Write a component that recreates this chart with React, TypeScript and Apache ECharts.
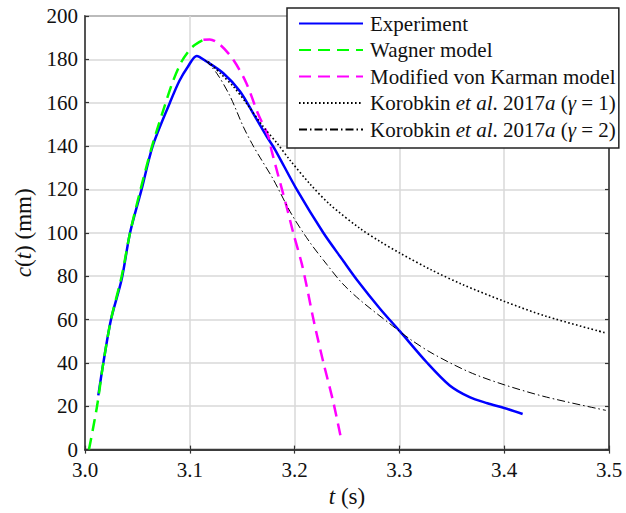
import { useEffect, useRef } from "react";
import * as echarts from "echarts";

// Experiment
const expT = [3.0127, 3.0175, 3.0248, 3.035, 3.043, 3.054, 3.0646, 3.081, 3.09, 3.098, 3.1066, 3.116, 3.132, 3.148, 3.1606, 3.1733, 3.1813, 3.202, 3.2274, 3.2465, 3.2592, 3.2815, 3.3006, 3.326, 3.348, 3.367, 3.384, 3.4, 3.4176];
const expC = [25, 40, 60, 78.6, 100, 120, 140, 160, 170, 176.5, 181.6, 179, 173.6, 165.2, 155, 144.5, 138.4, 120, 100, 87, 78.5, 65, 54.5, 40.3, 29.6, 24.2, 21.4, 19.2, 16.4];

// Wagner model
const wagT = [3.0038, 3.0115, 3.0175, 3.0248, 3.035, 3.043, 3.053, 3.064, 3.077, 3.084, 3.0922, 3.1, 3.105, 3.113, 3.117];
const wagC = [0, 20, 40, 60, 80, 100, 120, 140, 160, 170, 179, 184.5, 186.7, 189, 189.2];

// Modified von Karman model
const mvkT = [3.113, 3.119, 3.129, 3.1415, 3.154, 3.165, 3.175, 3.178, 3.1924, 3.1987, 3.2067, 3.2115, 3.218, 3.2274, 3.2369, 3.245];
const mvkC = [189, 189.2, 186.7, 179.8, 169, 155, 144.5, 138, 112, 100, 86, 75.5, 60, 40.3, 22, 3.5];

// Korobkin et al. 2017a (gamma = 1)
const k1T = [3.1176, 3.129, 3.1415, 3.154, 3.17, 3.183, 3.1956, 3.2147, 3.2338, 3.2624, 3.2815, 3.3006, 3.33, 3.36, 3.4, 3.44, 3.497];
const k1C = [179, 173.6, 167.5, 159.8, 149, 141.5, 133.5, 122.5, 113, 102, 96, 90.6, 83, 76.2, 68.4, 61.5, 53.8];

// Korobkin et al. 2017a (gamma = 2)
const k2T = [3.1145, 3.1257, 3.1384, 3.151, 3.1606, 3.1686, 3.1797, 3.1972, 3.2147, 3.2306, 3.2449, 3.2624, 3.291, 3.31, 3.3324, 3.367, 3.4, 3.4405, 3.497];
const k2C = [179.8, 173.6, 163, 149, 140, 133.5, 124.6, 108.5, 95.5, 85.5, 77, 69, 58, 51, 44.1, 35.7, 29.9, 24.2, 18.1];

const seriesNames = [
  "Experiment",
  "Wagner model",
  "Modified von Karman model",
  "Korobkin et al. 2017a (γ = 1)",
  "Korobkin et al. 2017a (γ = 2)",
];
const legendRich: Record<string, string> = {
  "Experiment": "Experiment",
  "Wagner model": "Wagner model",
  "Modified von Karman model": "Modified von Karman model",
  "Korobkin et al. 2017a (γ = 1)": "Korobkin {i|et al}. 2017{i|a} ({i|γ} = 1)",
  "Korobkin et al. 2017a (γ = 2)": "Korobkin {i|et al}. 2017{i|a} ({i|γ} = 2)",
};

const zip = (t: number[], c: number[]) => t.map((v, i) => [v, c[i]]);

export default function App() {
  const ref = useRef<HTMLDivElement>(null);
  useEffect(() => {
    const chart = echarts.init(ref.current!, null, { renderer: "svg" });
    const font = "Liberation Serif";
    const axisColor = "#333";
    const tickStyle = { show: true, inside: true, length: 4, lineStyle: { color: axisColor, width: 1.2 } };
    const lineSeries = (name: string, data: number[][], color: string, width: number, type: any) => ({
      name,
      type: "line",
      data,
      showSymbol: false,
      symbol: "none",
      smooth: 0.3,
      lineStyle: { color, width, type, cap: "butt" },
      itemStyle: { color },
      xAxisIndex: 0,
      yAxisIndex: 0,
    });
    chart.setOption({
      animation: false,
      textStyle: { fontFamily: font },
      grid: { left: 85, right: 17, top: 16, bottom: 62, show: true, borderColor: axisColor, borderWidth: 1.5 },
      xAxis: [
        {
          type: "value",
          min: 3.0,
          max: 3.5,
          interval: 0.1,
          axisLine: { show: true, lineStyle: { color: axisColor, width: 1.5 } },
          axisTick: tickStyle,
          axisLabel: {
            formatter: (v: number) => v.toFixed(1),
            fontFamily: font,
            fontSize: 21,
            lineHeight: 16,
            color: "#111",
            margin: 12,
          },
          splitLine: { show: true, lineStyle: { color: "#d8d8d8", width: 1.5 } },
          name: "{i|t} (s)",
          nameLocation: "middle",
          nameGap: 34,
          nameTextStyle: {
            fontFamily: font,
            fontSize: 23,
            color: "#111",
            rich: { i: { fontFamily: font, fontSize: 23, fontStyle: "italic", color: "#111" } },
          },
        },
        {
          type: "value",
          position: "top",
          min: 3.0,
          max: 3.5,
          interval: 0.1,
          axisLine: { show: true, lineStyle: { color: axisColor, width: 1.5 } },
          axisTick: tickStyle,
          axisLabel: { show: false },
          splitLine: { show: false },
        },
      ],
      yAxis: [
        {
          type: "value",
          min: 0,
          max: 200,
          interval: 20,
          axisLine: { show: true, lineStyle: { color: axisColor, width: 1.5 } },
          axisTick: tickStyle,
          axisLabel: { fontFamily: font, fontSize: 21, lineHeight: 16, color: "#111", margin: 7 },
          splitLine: { show: true, lineStyle: { color: "#d8d8d8", width: 1.5 } },
          name: "{i|c}({i|t}) (mm)",
          nameLocation: "middle",
          nameGap: 50,
          nameRotate: 90,
          nameTextStyle: {
            fontFamily: font,
            fontSize: 23,
            color: "#111",
            rich: { i: { fontFamily: font, fontSize: 23, fontStyle: "italic", color: "#111" } },
          },
        },
        {
          type: "value",
          position: "right",
          min: 0,
          max: 200,
          interval: 20,
          axisLine: { show: true, lineStyle: { color: axisColor, width: 1.5 } },
          axisTick: tickStyle,
          axisLabel: { show: false },
          splitLine: { show: false },
        },
      ],
      legend: {
        data: seriesNames,
        orient: "vertical",
        left: 287,
        top: 8,
        itemWidth: 64,
        itemHeight: 14,
        itemGap: 5.5,
        padding: [5, 3, 8, 11],
        backgroundColor: "#fff",
        borderColor: "#222",
        borderWidth: 1.5,
        borderRadius: 0,
        selectedMode: false,
        itemStyle: { opacity: 0 },
        formatter: (name: string) => legendRich[name] ?? name,
        textStyle: {
          fontFamily: font,
          fontSize: 21,
          lineHeight: 20,
          color: "#111",
          padding: [0, 0, 0, 2],
          rich: { i: { fontFamily: font, fontSize: 21, lineHeight: 20, fontStyle: "italic", color: "#111" } },
        },
      },
      series: [
        lineSeries(seriesNames[0], zip(expT, expC), "#0000ff", 2.5, "solid"),
        lineSeries(seriesNames[1], zip(wagT, wagC), "#00ff00", 2.5, [12, 7]),
        lineSeries(seriesNames[2], zip(mvkT, mvkC), "#ff00ff", 2.5, [12, 7]),
        lineSeries(seriesNames[3], zip(k1T, k1C), "#000000", 1.6, [1.6, 2.4]),
        lineSeries(seriesNames[4], zip(k2T, k2C), "#000000", 1.0, [8, 3, 1.5, 3]),
      ],
    });
    return () => chart.dispose();
  }, []);
  return <div ref={ref} style={{ position: "absolute", left: 0, top: 0, width: 626, height: 513 }} />;
}
